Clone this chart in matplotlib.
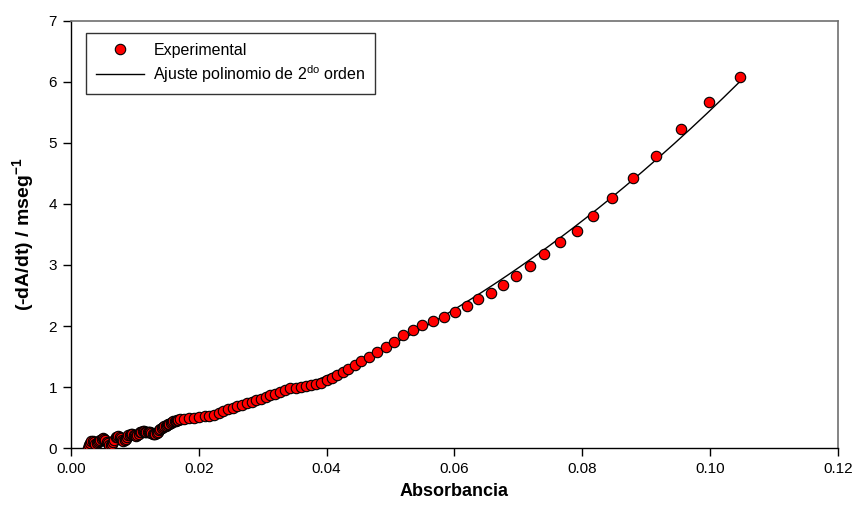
import numpy as np
import matplotlib
matplotlib.use('Agg')
import matplotlib.pyplot as plt

plt.rcParams['font.family'] = ['Liberation Sans', 'DejaVu Sans']

# Experimental rate data: absorbance vs -dA/dt
absorbancia = [
    0.0026, 0.0028, 0.0030, 0.0032, 0.0034, 0.0036, 0.0038, 0.0040, 0.0042, 0.0044,
    0.0046, 0.0048, 0.0050, 0.0052, 0.0054, 0.0056, 0.0058, 0.0060, 0.0062, 0.0064,
    0.0066, 0.0068, 0.0070, 0.0072, 0.0074, 0.0076, 0.0078, 0.0080, 0.0082, 0.0084,
    0.0086, 0.0088, 0.0090, 0.0092, 0.0094, 0.0096, 0.0098, 0.0100, 0.0102, 0.0104,
    0.0106, 0.0108, 0.0110, 0.0112, 0.0114, 0.0116, 0.0118, 0.0120, 0.0122, 0.0124,
    0.0126, 0.0128, 0.0130, 0.0132, 0.0134, 0.0136, 0.0138, 0.0140, 0.0142, 0.0144,
    0.0146, 0.0148, 0.0150, 0.0152, 0.0154, 0.0156, 0.0158, 0.0160, 0.0162, 0.0164,
    0.0166, 0.0168,
    0.0171, 0.0177, 0.0185, 0.0193, 0.0201, 0.0209, 0.0216, 0.0224, 0.0232, 0.0238,
    0.0246, 0.0253, 0.0260, 0.0268, 0.0275, 0.0283, 0.0290, 0.0297, 0.0305, 0.0312,
    0.0319, 0.0327, 0.0335, 0.0343, 0.0352, 0.0360, 0.0368, 0.0375, 0.0383, 0.0392,
    0.0400, 0.0409, 0.0417, 0.0425, 0.0434, 0.0444, 0.0454, 0.0467, 0.0479, 0.0493,
    0.0505, 0.0520, 0.0535, 0.0550, 0.0567, 0.0584, 0.0601, 0.0619, 0.0637, 0.0657,
    0.0676, 0.0696, 0.0718, 0.0740, 0.0765, 0.0791, 0.0817, 0.0847, 0.0880, 0.0916,
    0.0955, 0.0999, 0.1047,
]
velocidad = [
    0.01, 0.06, 0.09, 0.11, 0.12, 0.10, 0.07, 0.09, 0.10, 0.12,
    0.14, 0.15, 0.16, 0.15, 0.13, 0.10, 0.08, 0.06, 0.05, 0.07,
    0.10, 0.14, 0.18, 0.19, 0.20, 0.18, 0.16, 0.14, 0.12, 0.13,
    0.15, 0.18, 0.21, 0.22, 0.23, 0.23, 0.22, 0.21, 0.20, 0.22,
    0.24, 0.26, 0.27, 0.28, 0.28, 0.27, 0.26, 0.26, 0.27, 0.26,
    0.25, 0.24, 0.23, 0.23, 0.25, 0.27, 0.29, 0.31, 0.33, 0.35,
    0.36, 0.37, 0.38, 0.39, 0.40, 0.42, 0.43, 0.44, 0.45, 0.45,
    0.46, 0.46,
    0.47, 0.48, 0.50, 0.50, 0.51, 0.52, 0.53, 0.55, 0.57, 0.61,
    0.64, 0.66, 0.69, 0.71, 0.74, 0.76, 0.79, 0.81, 0.84, 0.87,
    0.89, 0.92, 0.95, 0.98, 0.99, 1.00, 1.02, 1.04, 1.05, 1.07,
    1.11, 1.15, 1.20, 1.25, 1.30, 1.37, 1.43, 1.50, 1.57, 1.66,
    1.74, 1.85, 1.93, 2.01, 2.08, 2.14, 2.23, 2.33, 2.44, 2.54,
    2.67, 2.82, 2.98, 3.18, 3.37, 3.56, 3.80, 4.10, 4.42, 4.79,
    5.23, 5.66, 6.07,
]

x = np.array(absorbancia)
y = np.array(velocidad)

# second order polynomial fit
coef = np.polyfit(x, y, 2)
xfit = np.linspace(x.min(), x.max(), 200)
yfit = np.polyval(coef, xfit)

fig = plt.figure(figsize=(8.55, 5.14), dpi=100)
ax = fig.add_axes([0.083, 0.128, 0.897, 0.832])

ax.plot(x, y, 'o', color='red', markeredgecolor='black', markeredgewidth=0.8,
        markersize=7.5, label='Experimental', zorder=3)
ax.plot(xfit, yfit, '-', color='black', linewidth=1.0,
        label='Ajuste polinomio de 2$^{\\mathregular{do}}$ orden', zorder=2)

ax.set_xlim(0, 0.12)
ax.set_ylim(0, 7)
ax.set_xticks(np.arange(0, 0.121, 0.02))
ax.set_xticklabels(['%.2f' % t for t in np.arange(0, 0.121, 0.02)])
ax.set_yticks(range(0, 8))
ax.tick_params(direction='out', length=6, width=1, labelsize=11, pad=4)

for s in ['left', 'bottom']:
    ax.spines[s].set_color('black')
    ax.spines[s].set_linewidth(1)
for s in ['top', 'right']:
    ax.spines[s].set_color('#707070')
    ax.spines[s].set_linewidth(1.2)

ax.set_xlabel('Absorbancia', fontsize=13, fontweight='bold', labelpad=5)
ax.set_ylabel('(-dA/dt) / mseg$^{\\mathregular{-1}}$', fontsize=14, fontweight='bold', labelpad=8)

leg = ax.legend(loc='upper left', bbox_to_anchor=(0.02, 0.971), borderaxespad=0,
                fancybox=False, framealpha=1, edgecolor='#333333', fontsize=11.5,
                handlelength=3.0, handletextpad=0.6, borderpad=0.6, labelspacing=0.35)
leg.get_frame().set_linewidth(1)

fig.savefig('out.png', dpi=100)
